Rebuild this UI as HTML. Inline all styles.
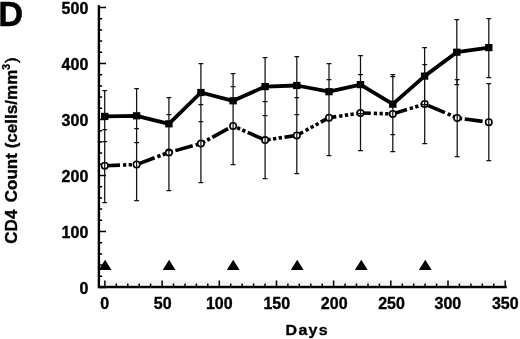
<!DOCTYPE html>
<html><head><meta charset="utf-8"><style>
html,body{margin:0;padding:0;background:#fff;}
body{width:520px;height:339px;overflow:hidden;}
svg{display:block;}
text{font-family:"Liberation Sans",Arial,sans-serif;font-weight:bold;fill:#000;}
</style></head><body>
<svg width="520" height="339" viewBox="0 0 520 339">
<rect width="520" height="339" fill="#fff"/>
<text transform="translate(-1.8 25.6)" font-size="34.5" stroke="#000" stroke-width="0.4">D</text>
<g font-size="16.0" stroke="#000" stroke-width="0.35"><text transform="translate(88.3 293.6) scale(1 0.99)" text-anchor="end">0</text><text transform="translate(88.3 237.6) scale(1 0.99)" text-anchor="end">100</text><text transform="translate(88.3 181.6) scale(1 0.99)" text-anchor="end">200</text><text transform="translate(88.3 125.6) scale(1 0.99)" text-anchor="end">300</text><text transform="translate(88.3 69.6) scale(1 0.99)" text-anchor="end">400</text><text transform="translate(88.3 13.6) scale(1 0.99)" text-anchor="end">500</text><text transform="translate(104.8 309.2) scale(1 1.01)" text-anchor="middle">0</text><text transform="translate(162.7 309.2) scale(1 1.01)" text-anchor="middle">50</text><text transform="translate(219.3 309.2) scale(1 1.01)" text-anchor="middle">100</text><text transform="translate(276.8 309.2) scale(1 1.01)" text-anchor="middle">150</text><text transform="translate(334.2 309.2) scale(1 1.01)" text-anchor="middle">200</text><text transform="translate(391.5 309.2) scale(1 1.01)" text-anchor="middle">250</text><text transform="translate(447.9 309.2) scale(1 1.01)" text-anchor="middle">300</text><text transform="translate(505.3 309.2) scale(1 1.01)" text-anchor="middle">350</text></g>
<text transform="translate(307.2 335.3) scale(1 0.93)" font-size="16" text-anchor="middle" letter-spacing="1.25" stroke="#000" stroke-width="0.35">Days</text>
<text transform="translate(17.2 243.7) rotate(-90) scale(1.034 1)" font-size="16.5" stroke="#000" stroke-width="0.35">CD4 <tspan dx="2.5">Count (cells/mm</tspan><tspan font-size="10" dy="-7.4" stroke-width="0.3">3</tspan><tspan dy="7.4" dx="1" font-weight="normal" stroke-width="0.5">)</tspan></text>
<rect x="106" y="280.4" width="399" height="4" fill="#f1f1f1"/>
<path d="M98.9 6.4V287M98.9 287H505.6" stroke="#000" stroke-width="2.4" fill="none" stroke-linecap="square"/>
<path d="M99 287.5H106M99 276.3H102.2M99 265.1H102.2M99 253.9H102.2M99 242.7H102.2M99 231.5H106M99 220.3H102.2M99 209.1H102.2M99 197.9H102.2M99 186.7H102.2M99 175.5H106M99 164.3H102.2M99 153.1H102.2M99 141.9H102.2M99 130.7H102.2M99 119.5H106M99 108.3H102.2M99 97.1H102.2M99 85.9H102.2M99 74.7H102.2M99 63.5H106M99 52.3H102.2M99 41.1H102.2M99 29.9H102.2M99 18.7H102.2M99 7.5H106M104.9 287H104.9V280.5M116.3 287H116.3V283.5M127.8 287H127.8V283.5M139.2 287H139.2V283.5M150.6 287H150.6V283.5M162.1 287H162.1V280.5M173.5 287H173.5V283.5M185.0 287H185.0V283.5M196.4 287H196.4V283.5M207.8 287H207.8V283.5M219.3 287H219.3V280.5M230.7 287H230.7V283.5M242.1 287H242.1V283.5M253.6 287H253.6V283.5M265.0 287H265.0V283.5M276.5 287H276.5V280.5M287.9 287H287.9V283.5M299.3 287H299.3V283.5M310.8 287H310.8V283.5M322.2 287H322.2V283.5M333.6 287H333.6V280.5M345.1 287H345.1V283.5M356.5 287H356.5V283.5M368.0 287H368.0V283.5M379.4 287H379.4V283.5M390.8 287H390.8V280.5M402.3 287H402.3V283.5M413.7 287H413.7V283.5M425.1 287H425.1V283.5M436.6 287H436.6V283.5M448.0 287H448.0V280.5M459.4 287H459.4V283.5M470.9 287H470.9V283.5M482.3 287H482.3V283.5M493.8 287H493.8V283.5M505.2 287H505.2V280.5" stroke="#000" stroke-width="1.5" fill="none"/>
<path d="M104.7 116.4L136.6 115.8L168.9 123.8L200.9 92.5L233.1 100.8L265.1 86.6L296.8 85.5L329 91.7L360.5 84.6L392.8 104.2L424.6 76.1L456.8 52.2L488.8 47.6" stroke="#000" stroke-width="3.8" fill="none" stroke-linejoin="round"/>
<g stroke="#000" stroke-width="3.6" fill="none" stroke-dasharray="18 3 3.3 2.4 3.3 2.4 3.3 2.6"><path d="M104.7 165.7L136.6 164.5" stroke-dashoffset="2.7"/><path d="M136.6 164.5L168.9 152.4" stroke-dashoffset="37.1"/><path d="M168.9 152.4L200.9 143.6" stroke-dashoffset="31.6"/><path d="M200.9 143.6L233.1 125.9" stroke-dashoffset="25.3"/><path d="M233.1 125.9L265.1 140.1" stroke-dashoffset="22.3"/><path d="M265.1 140.1L296.8 135.4" stroke-dashoffset="18.7"/><path d="M296.8 135.4L329 117.7" stroke-dashoffset="10.9"/><path d="M329 117.7L360.5 113" stroke-dashoffset="10.7"/><path d="M360.5 113L392.8 113.9" stroke-dashoffset="7.7"/><path d="M392.8 113.9L424.7 104.0" stroke-dashoffset="3.2"/><path d="M424.7 104.0L457.2 118.0" stroke-dashoffset="34.3"/><path d="M457.2 118.0L488.8 122.2" stroke-dashoffset="30.7"/></g>
<g fill="#000"><rect x="101.0" y="112.8" width="7.4" height="7.2"/><rect x="132.9" y="112.2" width="7.4" height="7.2"/><rect x="165.2" y="120.2" width="7.4" height="7.2"/><rect x="197.2" y="88.9" width="7.4" height="7.2"/><rect x="229.4" y="97.2" width="7.4" height="7.2"/><rect x="261.4" y="83.0" width="7.4" height="7.2"/><rect x="293.1" y="81.9" width="7.4" height="7.2"/><rect x="325.3" y="88.1" width="7.4" height="7.2"/><rect x="356.8" y="81.0" width="7.4" height="7.2"/><rect x="389.1" y="100.6" width="7.4" height="7.2"/><rect x="420.9" y="72.5" width="7.4" height="7.2"/><rect x="453.1" y="48.6" width="7.4" height="7.2"/><rect x="485.1" y="44.0" width="7.4" height="7.2"/></g>
<g fill="#fff" stroke="#000" stroke-width="1.6"><circle cx="104.7" cy="165.7" r="3.2"/><circle cx="136.6" cy="164.5" r="3.2"/><circle cx="168.9" cy="152.4" r="3.2"/><circle cx="200.9" cy="143.6" r="3.2"/><circle cx="233.1" cy="125.9" r="3.2"/><circle cx="265.1" cy="140.1" r="3.2"/><circle cx="296.8" cy="135.4" r="3.2"/><circle cx="329" cy="117.7" r="3.2"/><circle cx="360.5" cy="113" r="3.2"/><circle cx="392.8" cy="113.9" r="3.2"/><circle cx="424.7" cy="104.0" r="3.2"/><circle cx="457.2" cy="118.0" r="3.2"/><circle cx="488.8" cy="122.2" r="3.2"/></g>
<g fill="#000"><path d="M105.1 259.7L111.5 270L98.7 270Z"/><path d="M169.1 259.7L175.5 270L162.7 270Z"/><path d="M233.2 259.7L239.6 270L226.8 270Z"/><path d="M297.2 259.7L303.6 270L290.8 270Z"/><path d="M361.3 259.7L367.7 270L354.9 270Z"/><path d="M425.3 259.7L431.7 270L418.9 270Z"/></g>
<path d="M104.7 90.5V141.5M102.3 90.5H107.1M102.3 141.5H107.1M136.6 88.5V142.5M134.2 88.5H139.0M134.2 142.5H139.0M168.9 97.5V150.5M166.5 97.5H171.3M166.5 150.5H171.3M200.9 63.5V121.5M198.5 63.5H203.3M198.5 121.5H203.3M233.1 73.5V128.5M230.7 73.5H235.5M230.7 128.5H235.5M265.1 57.5V115.5M262.7 57.5H267.5M262.7 115.5H267.5M296.8 56.5V114.5M294.4 56.5H299.2M294.4 114.5H299.2M329.0 63.5V120.5M326.6 63.5H331.4M326.6 120.5H331.4M360.5 55.5V113.5M358.1 55.5H362.9M358.1 113.5H362.9M392.8 74.5V134.5M390.4 74.5H395.2M390.4 134.5H395.2M424.6 47.5V104.5M422.2 47.5H427.0M422.2 104.5H427.0M456.8 19.5V84.5M454.4 19.5H459.2M454.4 84.5H459.2M488.8 18.5V77.5M486.4 18.5H491.2M486.4 77.5H491.2M104.7 129.5V202.5M102.3 129.5H107.1M102.3 202.5H107.1M136.6 128.5V200.5M134.2 128.5H139.0M134.2 200.5H139.0M168.9 114.5V190.5M166.5 114.5H171.3M166.5 190.5H171.3M200.9 104.5V182.5M198.5 104.5H203.3M198.5 182.5H203.3M233.1 86.5V164.5M230.7 86.5H235.5M230.7 164.5H235.5M265.1 101.5V178.5M262.7 101.5H267.5M262.7 178.5H267.5M296.8 97.5V173.5M294.4 97.5H299.2M294.4 173.5H299.2M329.0 79.5V155.5M326.6 79.5H331.4M326.6 155.5H331.4M360.5 74.5V150.5M358.1 74.5H362.9M358.1 150.5H362.9M392.8 76.5V151.5M390.4 76.5H395.2M390.4 151.5H395.2M424.7 64.5V143.5M422.3 64.5H427.1M422.3 143.5H427.1M457.2 79.5V156.5M454.8 79.5H459.6M454.8 156.5H459.6M488.8 83.5V160.5M486.4 83.5H491.2M486.4 160.5H491.2" stroke="#111" stroke-width="1.25" fill="none"/>
</svg>
</body></html>
